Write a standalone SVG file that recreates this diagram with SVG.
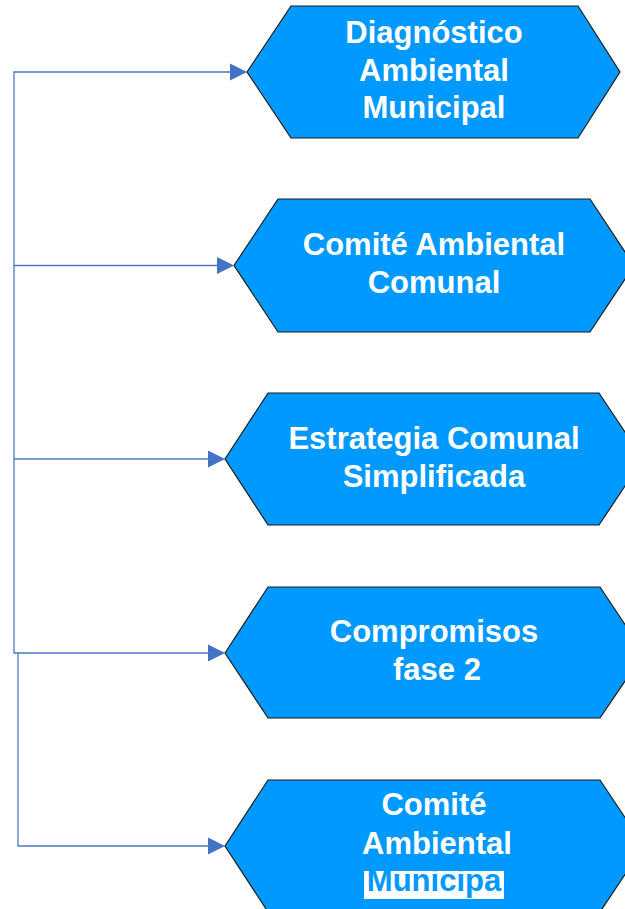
<svg xmlns="http://www.w3.org/2000/svg" width="625" height="909" viewBox="0 0 625 909">
<defs>
<style>
.hex{fill:#0099FF;stroke:#1a1a1a;stroke-width:1.2}
.t{font-family:"Liberation Sans",Arial,sans-serif;font-weight:bold;font-size:31px;fill:#FFFFFF;text-anchor:middle}
.c{fill:none;stroke:#4A78C4;stroke-width:1.3}
.ah{fill:#4472C4}
</style>
</defs>
<rect width="625" height="909" fill="#FFFFFF"/>
<g id="connectors">
<path class="c" d="M230,72 H14 V653 H210"/>
<path class="c" d="M217,265.5 H14"/>
<path class="c" d="M208,459 H14"/>
<path class="c" d="M18,653 V846 H210"/>
<polygon class="ah" points="230,63.5 247,72 230,80.5"/>
<polygon class="ah" points="217,257 234,265.5 217,274"/>
<polygon class="ah" points="208,450.5 225,459 208,467.5"/>
<polygon class="ah" points="208,644.5 225,653 208,661.5"/>
<polygon class="ah" points="208,837.5 225,846 208,854.5"/>
</g>
<g id="node1">
<polygon class="hex" points="247,72 291,6 578,6 620,72 578,138 291,138"/>
<text class="t" x="434" y="43">Diagnóstico</text>
<text class="t" x="434" y="81">Ambiental</text>
<text class="t" x="434" y="118">Municipal</text>
</g>
<g id="node2">
<polygon class="hex" points="234,265.5 278,199 590,199 634,265.5 590,332 278,332"/>
<text class="t" x="434" y="255">Comité Ambiental</text>
<text class="t" x="434" y="293">Comunal</text>
</g>
<g id="node3">
<polygon class="hex" points="225,459 268,393 599,393 643,459 599,525 268,525"/>
<text class="t" x="434" y="448.5">Estrategia Comunal</text>
<text class="t" x="434" y="486.5">Simplificada</text>
</g>
<g id="node4">
<polygon class="hex" points="225,653 268,587 600,587 644,653 600,718 268,718"/>
<text class="t" x="434" y="642">Compromisos</text>
<text class="t" x="437" y="680">fase 2</text>
</g>
<g id="node5">
<polygon class="hex" points="225,846 268,780 600,780 644,846 600,912 268,912"/>
<text class="t" x="434" y="815">Comité</text>
<text class="t" x="437" y="854">Ambiental</text>
<rect x="364" y="871" width="140" height="28" fill="#FFFFFF"/>
<text class="t" x="434" y="891" style="fill:#0099FF">Municipa</text>
</g>
</svg>
